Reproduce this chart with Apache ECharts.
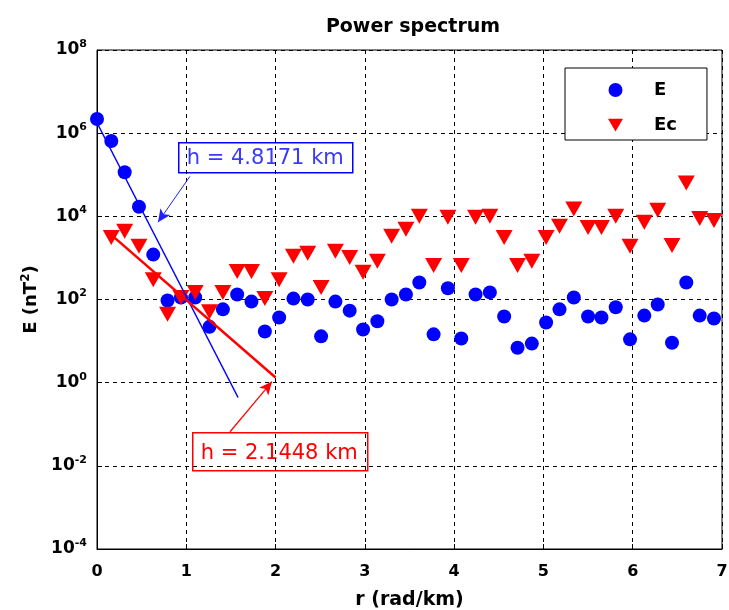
<!DOCTYPE html>
<html>
<head>
<meta charset="utf-8">
<script src="https://cdn.jsdelivr.net/npm/echarts@6/dist/echarts.min.js"></script>
<style>
  html, body { margin: 0; padding: 0; background: #fff; }
  #chart { width: 729px; height: 610px; }
</style>
</head>
<body>
<div id="chart"></div>
<script>
// wavenumber r (rad/km)
const rValues = [0, 0.16, 0.31, 0.47, 0.63, 0.79, 0.94, 1.10, 1.26, 1.41, 1.57, 1.73, 1.88, 2.04, 2.20,
  2.36, 2.51, 2.67, 2.83, 2.98, 3.14, 3.30, 3.46, 3.61, 3.77, 3.93, 4.08, 4.24, 4.40, 4.56,
  4.71, 4.87, 5.03, 5.18, 5.34, 5.50, 5.65, 5.81, 5.97, 6.13, 6.28, 6.44, 6.60, 6.75, 6.91];

// spectrum E (nT^2)
const eValues = [2.2e6, 6.5e5, 1.15e5, 1.7e4, 1200, 95, 112, 112, 22, 58, 132, 89, 17, 37, 105,
  100, 13, 89, 54, 19, 30, 100, 132, 257, 14.5, 186, 11.5, 132, 148, 39,
  6.9, 8.7, 28, 58, 112, 39, 37, 65, 11, 41, 76, 9.1, 257, 41, 35];

// spectrum Ec (nT^2), no value at r = 0
const ecValues = [null, 3100, 4400, 1900, 300, 44, 112, 148, 51, 148, 470, 470, 105, 300, 1100,
  1300, 195, 1450, 1020, 450, 830, 3300, 4900, 1.0e4, 660, 9500, 660, 9500, 1.0e4, 3100,
  660, 830, 3100, 5800, 1.5e4, 5400, 5400, 1.0e4, 1900, 7200, 1.4e4, 2000, 6.3e4, 8900, 7900];

// fitted straight lines (end points)
const fitE = [[0, 1.78e6], [1.58, 0.44]];
const fitEc = [[0.157, 3630], [2.0, 1.33]];

// annotation arrows (start, tip)
const arrowE = [[1.04, 9.1e4], [0.683, 7.2e3]];
const arrowEc = [[1.49, 0.066], [1.96, 1.06]];

const xTicks = [0, 1, 2, 3, 4, 5, 6, 7];

const font = '"DejaVu Sans", Verdana, sans-serif';

const chart = echarts.init(document.getElementById('chart'), null, { renderer: 'canvas' });

const ePoints = rValues.map((r, i) => [r, eValues[i]]);
const ecPoints = rValues.map((r, i) => [r, ecValues[i]]).filter((p) => p[1] != null);

const supLabel = (v) => {
  const p = Math.round(Math.log10(v));
  return '{b|10}{s|' + p + '}';
};

const options = {
  animation: false,
  backgroundColor: '#fff',
  title: {
    text: 'Power spectrum',
    left: 408,
    top: 13,
    textAlign: 'center',
    textStyle: { fontFamily: font, fontWeight: 'bold', fontSize: 19, color: '#000' },
  },
  grid: {
    left: 97,
    right: 7,
    top: 50,
    bottom: 61,
    outerBoundsMode: 'none',
    containLabel: false,
    show: true,
    borderColor: '#000',
    borderWidth: 1,
    backgroundColor: 'transparent',
  },
  legend: {
    orient: 'vertical',
    left: 565,
    top: 68,
    data: [
      { name: 'E', icon: 'circle' },
      { name: 'Ec', icon: 'path://M0,0 L20,0 L10,17 Z' },
    ],
    itemWidth: 15,
    itemHeight: 14,
    itemGap: 17,
    padding: [13, 30, 6, 43],
    backgroundColor: '#fff',
    borderColor: '#000',
    borderWidth: 1,
    borderRadius: 0,
    textStyle: {
      fontFamily: font,
      fontWeight: 'bold',
      fontSize: 18,
      lineHeight: 14,
      color: '#000',
      padding: [0, 0, 0, 26],
    },
  },
  xAxis: {
    type: 'value',
    min: 0,
    max: 7,
    interval: 1,
    name: 'r (rad/km)',
    nameLocation: 'middle',
    nameGap: 42,
    nameTextStyle: { fontFamily: font, fontWeight: 'bold', fontSize: 19, color: '#000' },
    axisLine: { show: true, lineStyle: { color: '#000', width: 1 } },
    axisTick: { show: true, inside: true, length: 5, lineStyle: { color: '#000' } },
    axisLabel: {
      margin: 15,
      fontFamily: font,
      fontWeight: 'bold',
      fontSize: 16,
      color: '#000',
      formatter: (v) => (xTicks.includes(v) ? String(v) : ''),
    },
    splitLine: { show: true, lineStyle: { color: '#000', width: 1, type: [4, 4] } },
  },
  yAxis: {
    type: 'log',
    logBase: 10,
    min: 1e-4,
    max: 1e8,
    interval: 2,
    name: '{b|E (nT}{s|2}{b|)}',
    nameLocation: 'middle',
    nameGap: 55,
    nameRotate: 90,
    nameTextStyle: {
      rich: {
        b: { fontFamily: font, fontWeight: 'bold', fontSize: 18, color: '#000' },
        s: { fontFamily: font, fontWeight: 'bold', fontSize: 12, color: '#000', padding: [0, 0, 10, 0] },
      },
    },
    axisLine: { show: true, lineStyle: { color: '#000', width: 1 } },
    axisTick: { show: true, inside: true, length: 5, lineStyle: { color: '#000' } },
    axisLabel: {
      margin: 10,
      formatter: supLabel,
      rich: {
        b: { fontFamily: font, fontWeight: 'bold', fontSize: 17, color: '#000' },
        s: { fontFamily: font, fontWeight: 'bold', fontSize: 11, color: '#000', padding: [0, 0, 12, 0] },
      },
    },
    splitLine: { show: true, lineStyle: { color: '#000', width: 1, type: [4, 4] } },
  },
  series: [
    {
      name: 'E',
      type: 'scatter',
      data: ePoints,
      symbol: 'circle',
      symbolSize: 14,
      itemStyle: { color: '#0000ff', opacity: 1 },
      silent: true,
    },
    {
      name: 'Ec',
      type: 'scatter',
      data: ecPoints,
      symbol: 'triangle',
      symbolRotate: 180,
      symbolSize: [17, 15],
      itemStyle: { color: '#ff0000', opacity: 1 },
      silent: true,
    },
    {
      name: 'fitE',
      type: 'line',
      data: fitE,
      showSymbol: false,
      silent: true,
      lineStyle: { color: '#0000ff', width: 1.5 },
      markLine: {
        silent: true,
        symbol: ['none', 'arrow'],
        symbolSize: [9, 13],
        label: { show: false },
        lineStyle: { color: '#2020ff', width: 1, type: 'solid' },
        data: [[{ coord: arrowE[0] }, { coord: arrowE[1] }]],
      },
    },
    {
      name: 'fitEc',
      type: 'line',
      data: fitEc,
      showSymbol: false,
      silent: true,
      lineStyle: { color: '#ff0000', width: 2.5 },
      markLine: {
        silent: true,
        symbol: ['none', 'arrow'],
        symbolSize: [9, 13],
        label: { show: false },
        lineStyle: { color: '#ff0000', width: 1.2, type: 'solid' },
        data: [[{ coord: arrowEc[0] }, { coord: arrowEc[1] }]],
      },
    },
  ],
  graphic: [
    {
      type: 'group',
      left: 178,
      top: 142,
      z: 100,
      children: [
        { type: 'rect', shape: { x: 0, y: 0, width: 174, height: 30 }, style: { fill: '#fff', stroke: '#0000ff', lineWidth: 1.5 } },
        { type: 'text', x: 8, y: 16, style: { text: 'h = 4.8171 km', fill: '#3a3aff', fontSize: 21, fontFamily: font, verticalAlign: 'middle' } },
      ],
    },
    {
      type: 'group',
      left: 192,
      top: 432,
      z: 100,
      children: [
        { type: 'rect', shape: { x: 0, y: 0, width: 175, height: 38 }, style: { fill: '#fff', stroke: '#ff0000', lineWidth: 1.5 } },
        { type: 'text', x: 8, y: 21, style: { text: 'h = 2.1448 km', fill: '#ff0000', fontSize: 21, fontFamily: font, verticalAlign: 'middle' } },
      ],
    },
  ],
};

chart.setOption(options);
</script>
</body>
</html>
